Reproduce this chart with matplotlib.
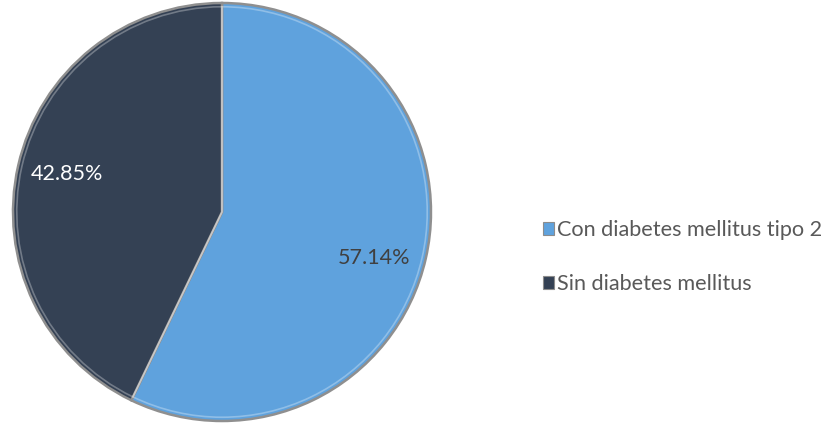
import numpy as np
import matplotlib
matplotlib.use("Agg")
import matplotlib.pyplot as plt
from matplotlib.patches import Patch

categories = ["Con diabetes mellitus tipo 2", "Sin diabetes mellitus"]
values = [57.14, 42.85]
colors = ["#5FA2DD", "#344154"]
label_colors = ["#404040", "#FFFFFF"]

plt.rcParams["font.family"] = ["Lato", "DejaVu Sans"]

W, H = 835, 425
fig = plt.figure(figsize=(W / 100, H / 100), dpi=100)
cx, cy, r = 222, 212, 209
ax = fig.add_axes([(cx - r) / W, (H - cy - r) / H, 2 * r / W, 2 * r / H])

wedges, _ = ax.pie(
    values,
    colors=colors,
    startangle=90,
    counterclock=False,
    radius=1.0,
    wedgeprops=dict(edgecolor="#8f8f8f", linewidth=1.8),
)
# soft inner rim for a bevelled look
ax.pie(
    values,
    colors=["none", "none"],
    startangle=90,
    counterclock=False,
    radius=0.982,
    wedgeprops=dict(edgecolor=(1, 1, 1, 0.3), linewidth=1.2, fill=False),
)

# percentage labels placed inside each wedge
label_dist = [0.76, 0.765]
label_shift_deg = [-4.0, -1.0]
for w, v, c, d, s in zip(wedges, values, label_colors, label_dist, label_shift_deg):
    ang = np.deg2rad((w.theta1 + w.theta2) / 2 + s)
    ax.text(d * np.cos(ang), d * np.sin(ang), f"{v:.2f}%",
            ha="center", va="center", color=c, fontsize=15.5)

ax.set_xlim(-1.0, 1.0)
ax.set_ylim(-1.0, 1.0)
ax.set_aspect("equal")
ax.axis("off")

handles = [Patch(facecolor=c, edgecolor="#8c8c8c", linewidth=0.8) for c in colors]
fig.legend(
    handles,
    categories,
    loc="center left",
    bbox_to_anchor=(523 / W, 1 - 257 / H),
    frameon=False,
    fontsize=15.6,
    labelcolor="#595959",
    handlelength=0.55,
    handleheight=0.55,
    handletextpad=0.1,
    labelspacing=1.55,
)

fig.savefig("out.png", dpi=100, facecolor="white")
